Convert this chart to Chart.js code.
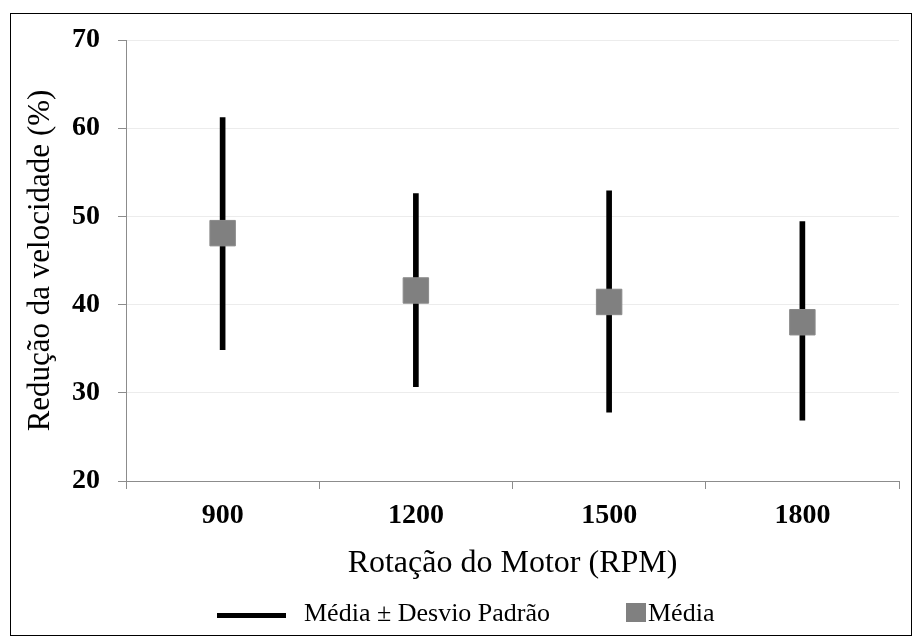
<!DOCTYPE html>
<html>
<head>
<meta charset="utf-8">
<script src="https://cdn.jsdelivr.net/npm/chart.js@4"></script>
<style>
  body { margin: 0; background: #fff; }
  #wrap { position: relative; width: 918px; height: 644px; }
  #frame { position: absolute; left: 10px; top: 13px; width: 902px; height: 623px;
           border: 1px solid #000; box-sizing: border-box; pointer-events: none; }
  #legend { position: absolute; top: 598px; left: 0; width: 918px; height: 30px;
            font-family: "Liberation Serif", "Times New Roman", serif; font-size: 26px; color: #000; }
  .item { position: absolute; top: 0; line-height: 30px; white-space: nowrap; }
  .line { display: inline-block; width: 69px; height: 5px; background: #000; vertical-align: middle; margin-right: 18px; }
  .sq { display: inline-block; width: 20px; height: 19px; background: #808080; vertical-align: -1px; margin-right: 2px; }
</style>
</head>
<body>
<div id="wrap">
  <canvas id="chart" width="918" height="644"></canvas>
  <div id="frame"></div>
  <div id="legend">
    <span class="item" style="left:217px"><span class="line"></span>Média ± Desvio Padrão</span>
    <span class="item" style="left:626px"><span class="sq"></span>Média</span>
  </div>
</div>
<script>
const rpm = ["900", "1200", "1500", "1800"];
const media = [48.1, 41.6, 40.3, 38.0];
const limInf = [34.9, 30.7, 27.8, 26.9];
const limSup = [61.2, 52.6, 52.9, 49.4];
const yTicks = [20, 30, 40, 50, 60, 70];

const serif = "'Liberation Serif', 'Times New Roman', serif";

const data = {
    labels: rpm,
    datasets: [
        {
            type: "line",
            label: "Média",
            data: media,
            showLine: false,
            pointStyle: "rect",
            pointRadius: 18,
            pointHoverRadius: 18,
            backgroundColor: "#808080",
            borderColor: "#8a8a8a",
            borderWidth: 1,
            order: 0,
        },
        {
            type: "bar",
            label: "Média ± Desvio Padrão",
            data: rpm.map((_, i) => [limInf[i], limSup[i]]),
            backgroundColor: "#000",
            barThickness: 5,
            order: 1,
        },
    ],
};

const config = {
    type: "bar",
    data: data,
    options: {
        responsive: false,
        animation: false,
        layout: { padding: { left: 20, right: 15, top: 40, bottom: 61 } },
        plugins: { legend: { display: false }, tooltip: { enabled: false } },
        scales: {
            x: {
                offset: true,
                grid: { offset: true, drawOnChartArea: false, tickColor: "#8c8c8c", tickLength: 8 },
                border: { color: "#8c8c8c", width: 1 },
                ticks: { color: "#000", padding: 10, font: { family: serif, size: 28, weight: "bold" } },
                title: { display: true, text: "Rotação do Motor (RPM)", color: "#000",
                         padding: { top: 0, bottom: 0 }, font: { family: serif, size: 32 } },
                afterFit: (s) => { s.height = 102; },
            },
            y: {
                min: 20,
                max: 70,
                afterBuildTicks: (s) => { s.ticks = yTicks.map((v) => ({ value: v })); },
                grid: { color: "#ececec", tickColor: "#8c8c8c", tickLength: 8 },
                border: { color: "#8c8c8c", width: 1 },
                ticks: { color: "#000", padding: 18, font: { family: serif, size: 28, weight: "bold" } },
                title: { display: true, text: "Redução da velocidade (%)", color: "#000",
                         padding: { top: 2, bottom: 0 }, font: { family: serif, size: 31 } },
                afterFit: (s) => { s.width = 106; },
            },
        },
    },
};

new Chart(document.getElementById("chart"), config);
</script>
</body>
</html>
